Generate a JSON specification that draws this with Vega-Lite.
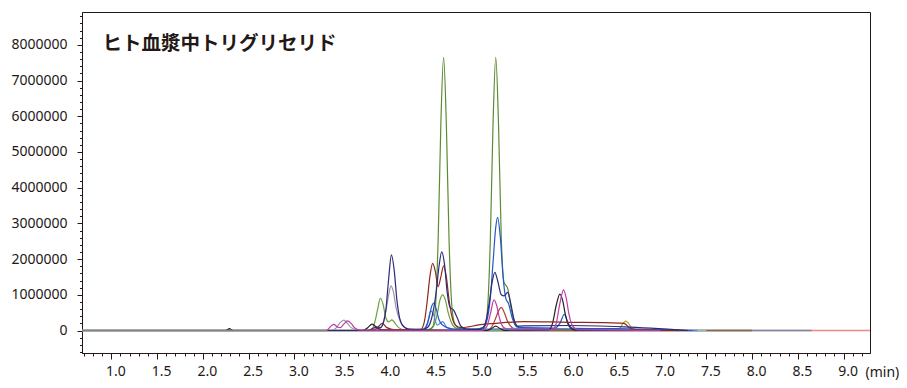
{
  "$schema": "https://vega.github.io/schema/vega-lite/v6.json",
  "autosize": {"type": "none"},
  "padding": {"left": 82, "top": 12, "right": 37, "bottom": 35},
  "width": 788,
  "height": 341,
  "background": "#ffffff",
  "config": {
    "view": {"stroke": "#231815", "strokeWidth": 1},
    "font": "Noto Sans",
    "axis": {"labelFont": "Noto Sans", "labelFontSize": 14, "labelColor": "#231815", "domainColor": "#231815", "tickColor": "#231815", "grid": false, "titleFont": "Noto Sans"}
  },
  "datasets": {
    "lines": [
      {"s": "salmon", "t": 0.68, "v": 0}, {"s": "salmon", "t": 9.288, "v": 0},
      {"s": "slate", "t": 0.68, "v": 0}, {"s": "slate", "t": 8.65, "v": 0},
      {"s": "umber", "t": 0.68, "v": 0}, {"s": "umber", "t": 8.0, "v": 0},
      {"s": "teal", "t": 0.68, "v": 0}, {"s": "teal", "t": 7.5, "v": 0},

      {"s": "gray", "t": 0.68, "v": 0}, {"s": "gray", "t": 3.35, "v": 0},

      {"s": "olive", "t": 6.45, "v": 0}, {"s": "olive", "t": 6.5, "v": 0}, {"s": "olive", "t": 6.55, "v": 50000}, {"s": "olive", "t": 6.59, "v": 200000}, {"s": "olive", "t": 6.62, "v": 260000}, {"s": "olive", "t": 6.65, "v": 200000}, {"s": "olive", "t": 6.69, "v": 50000}, {"s": "olive", "t": 6.75, "v": 0}, {"s": "olive", "t": 6.9, "v": 0},

      {"s": "lav", "t": 0.68, "v": 0}, {"s": "lav", "t": 3.4, "v": 0}, {"s": "lav", "t": 3.46, "v": 80000}, {"s": "lav", "t": 3.5, "v": 220000}, {"s": "lav", "t": 3.54, "v": 290000}, {"s": "lav", "t": 3.58, "v": 200000}, {"s": "lav", "t": 3.62, "v": 80000}, {"s": "lav", "t": 3.68, "v": 20000}, {"s": "lav", "t": 3.9, "v": 20000}, {"s": "lav", "t": 3.96, "v": 150000}, {"s": "lav", "t": 4.0, "v": 550000}, {"s": "lav", "t": 4.03, "v": 1000000}, {"s": "lav", "t": 4.055, "v": 1250000}, {"s": "lav", "t": 4.08, "v": 1100000}, {"s": "lav", "t": 4.11, "v": 650000}, {"s": "lav", "t": 4.15, "v": 300000}, {"s": "lav", "t": 4.2, "v": 100000}, {"s": "lav", "t": 4.27, "v": 30000}, {"s": "lav", "t": 4.5, "v": 20000}, {"s": "lav", "t": 7.0, "v": 0},

      {"s": "green2", "t": 0.68, "v": 0}, {"s": "green2", "t": 3.8, "v": 0}, {"s": "green2", "t": 3.85, "v": 50000}, {"s": "green2", "t": 3.88, "v": 250000}, {"s": "green2", "t": 3.91, "v": 600000}, {"s": "green2", "t": 3.94, "v": 910000}, {"s": "green2", "t": 3.97, "v": 720000}, {"s": "green2", "t": 4.0, "v": 350000}, {"s": "green2", "t": 4.03, "v": 240000}, {"s": "green2", "t": 4.065, "v": 300000}, {"s": "green2", "t": 4.1, "v": 200000}, {"s": "green2", "t": 4.14, "v": 80000}, {"s": "green2", "t": 4.2, "v": 20000}, {"s": "green2", "t": 4.45, "v": 20000}, {"s": "green2", "t": 4.52, "v": 120000}, {"s": "green2", "t": 4.56, "v": 450000}, {"s": "green2", "t": 4.59, "v": 850000}, {"s": "green2", "t": 4.62, "v": 1000000}, {"s": "green2", "t": 4.65, "v": 850000}, {"s": "green2", "t": 4.68, "v": 500000}, {"s": "green2", "t": 4.72, "v": 200000}, {"s": "green2", "t": 4.78, "v": 50000}, {"s": "green2", "t": 4.9, "v": 20000}, {"s": "green2", "t": 7.0, "v": 0},

      {"s": "green", "t": 0.68, "v": 0}, {"s": "green", "t": 4.4, "v": 0}, {"s": "green", "t": 4.47, "v": 20000}, {"s": "green", "t": 4.51, "v": 90000}, {"s": "green", "t": 4.54, "v": 610000}, {"s": "green", "t": 4.57, "v": 2490000}, {"s": "green", "t": 4.6, "v": 5780000}, {"s": "green", "t": 4.63, "v": 7650000}, {"s": "green", "t": 4.66, "v": 5780000}, {"s": "green", "t": 4.69, "v": 2500000}, {"s": "green", "t": 4.72, "v": 700000}, {"s": "green", "t": 4.75, "v": 200000}, {"s": "green", "t": 4.8, "v": 60000}, {"s": "green", "t": 4.9, "v": 30000}, {"s": "green", "t": 5.0, "v": 40000}, {"s": "green", "t": 5.05, "v": 80000}, {"s": "green", "t": 5.08, "v": 120000}, {"s": "green", "t": 5.11, "v": 610000}, {"s": "green", "t": 5.14, "v": 2490000}, {"s": "green", "t": 5.17, "v": 5780000}, {"s": "green", "t": 5.2, "v": 7650000}, {"s": "green", "t": 5.23, "v": 5780000}, {"s": "green", "t": 5.26, "v": 2600000}, {"s": "green", "t": 5.29, "v": 1350000}, {"s": "green", "t": 5.33, "v": 1180000}, {"s": "green", "t": 5.37, "v": 600000}, {"s": "green", "t": 5.41, "v": 200000}, {"s": "green", "t": 5.46, "v": 80000}, {"s": "green", "t": 5.6, "v": 50000}, {"s": "green", "t": 6.0, "v": 30000}, {"s": "green", "t": 7.2, "v": 0},

      {"s": "red2", "t": 0.68, "v": 0}, {"s": "red2", "t": 5.1, "v": 0}, {"s": "red2", "t": 5.15, "v": 80000}, {"s": "red2", "t": 5.2, "v": 350000}, {"s": "red2", "t": 5.23, "v": 550000}, {"s": "red2", "t": 5.26, "v": 650000}, {"s": "red2", "t": 5.29, "v": 520000}, {"s": "red2", "t": 5.33, "v": 250000}, {"s": "red2", "t": 5.38, "v": 80000}, {"s": "red2", "t": 5.45, "v": 20000}, {"s": "red2", "t": 7.0, "v": 0},

      {"s": "lblue", "t": 0.68, "v": 0}, {"s": "lblue", "t": 4.4, "v": 0}, {"s": "lblue", "t": 4.45, "v": 150000}, {"s": "lblue", "t": 4.49, "v": 550000}, {"s": "lblue", "t": 4.52, "v": 450000}, {"s": "lblue", "t": 4.56, "v": 150000}, {"s": "lblue", "t": 4.62, "v": 250000}, {"s": "lblue", "t": 4.66, "v": 100000}, {"s": "lblue", "t": 4.72, "v": 20000}, {"s": "lblue", "t": 5.5, "v": 60000}, {"s": "lblue", "t": 7.4, "v": 0},

      {"s": "blue", "t": 0.68, "v": 0}, {"s": "blue", "t": 4.38, "v": 0}, {"s": "blue", "t": 4.43, "v": 80000}, {"s": "blue", "t": 4.47, "v": 350000}, {"s": "blue", "t": 4.5, "v": 680000}, {"s": "blue", "t": 4.52, "v": 770000}, {"s": "blue", "t": 4.55, "v": 600000}, {"s": "blue", "t": 4.58, "v": 300000}, {"s": "blue", "t": 4.62, "v": 150000}, {"s": "blue", "t": 4.67, "v": 80000}, {"s": "blue", "t": 4.75, "v": 40000}, {"s": "blue", "t": 5.05, "v": 40000}, {"s": "blue", "t": 5.1, "v": 250000}, {"s": "blue", "t": 5.14, "v": 900000}, {"s": "blue", "t": 5.17, "v": 1900000}, {"s": "blue", "t": 5.2, "v": 2900000}, {"s": "blue", "t": 5.22, "v": 3170000}, {"s": "blue", "t": 5.25, "v": 2600000}, {"s": "blue", "t": 5.28, "v": 1500000}, {"s": "blue", "t": 5.31, "v": 900000}, {"s": "blue", "t": 5.34, "v": 750000}, {"s": "blue", "t": 5.38, "v": 350000}, {"s": "blue", "t": 5.43, "v": 100000}, {"s": "blue", "t": 5.5, "v": 80000}, {"s": "blue", "t": 5.85, "v": 70000}, {"s": "blue", "t": 5.9, "v": 200000}, {"s": "blue", "t": 5.95, "v": 450000}, {"s": "blue", "t": 5.99, "v": 200000}, {"s": "blue", "t": 6.05, "v": 60000}, {"s": "blue", "t": 6.5, "v": 50000}, {"s": "blue", "t": 7.35, "v": 0},

      {"s": "black", "t": 0.68, "v": 0}, {"s": "black", "t": 2.25, "v": 0}, {"s": "black", "t": 2.29, "v": 50000}, {"s": "black", "t": 2.33, "v": 0}, {"s": "black", "t": 3.75, "v": 0}, {"s": "black", "t": 3.8, "v": 80000}, {"s": "black", "t": 3.85, "v": 180000}, {"s": "black", "t": 3.9, "v": 80000}, {"s": "black", "t": 3.96, "v": 20000}, {"s": "black", "t": 5.1, "v": 0}, {"s": "black", "t": 5.15, "v": 50000}, {"s": "black", "t": 5.2, "v": 120000}, {"s": "black", "t": 5.25, "v": 50000}, {"s": "black", "t": 5.3, "v": 0}, {"s": "black", "t": 5.78, "v": 20000}, {"s": "black", "t": 5.82, "v": 200000}, {"s": "black", "t": 5.86, "v": 700000}, {"s": "black", "t": 5.9, "v": 1020000}, {"s": "black", "t": 5.93, "v": 850000}, {"s": "black", "t": 5.96, "v": 450000}, {"s": "black", "t": 6.0, "v": 120000}, {"s": "black", "t": 6.05, "v": 20000}, {"s": "black", "t": 6.2, "v": 0}, {"s": "black", "t": 7.0, "v": 0},

      {"s": "brown", "t": 0.68, "v": 0}, {"s": "brown", "t": 3.85, "v": 0}, {"s": "brown", "t": 3.9, "v": 60000}, {"s": "brown", "t": 3.96, "v": 200000}, {"s": "brown", "t": 4.01, "v": 80000}, {"s": "brown", "t": 4.1, "v": 20000}, {"s": "brown", "t": 4.38, "v": 30000}, {"s": "brown", "t": 4.42, "v": 250000}, {"s": "brown", "t": 4.45, "v": 800000}, {"s": "brown", "t": 4.48, "v": 1500000}, {"s": "brown", "t": 4.51, "v": 1880000}, {"s": "brown", "t": 4.54, "v": 1650000}, {"s": "brown", "t": 4.57, "v": 1230000}, {"s": "brown", "t": 4.6, "v": 1500000}, {"s": "brown", "t": 4.63, "v": 1810000}, {"s": "brown", "t": 4.66, "v": 1500000}, {"s": "brown", "t": 4.69, "v": 850000}, {"s": "brown", "t": 4.72, "v": 400000}, {"s": "brown", "t": 4.76, "v": 150000}, {"s": "brown", "t": 4.82, "v": 80000}, {"s": "brown", "t": 4.9, "v": 100000}, {"s": "brown", "t": 5.0, "v": 150000}, {"s": "brown", "t": 5.2, "v": 200000}, {"s": "brown", "t": 5.5, "v": 250000}, {"s": "brown", "t": 6.0, "v": 230000}, {"s": "brown", "t": 6.4, "v": 220000}, {"s": "brown", "t": 6.6, "v": 200000}, {"s": "brown", "t": 6.68, "v": 50000}, {"s": "brown", "t": 6.8, "v": 20000}, {"s": "brown", "t": 7.3, "v": 0},

      {"s": "navy", "t": 0.68, "v": 0}, {"s": "navy", "t": 3.8, "v": 0}, {"s": "navy", "t": 3.86, "v": 60000}, {"s": "navy", "t": 3.9, "v": 100000}, {"s": "navy", "t": 3.94, "v": 80000}, {"s": "navy", "t": 3.97, "v": 200000}, {"s": "navy", "t": 4.0, "v": 600000}, {"s": "navy", "t": 4.03, "v": 1450000}, {"s": "navy", "t": 4.06, "v": 2120000}, {"s": "navy", "t": 4.09, "v": 1700000}, {"s": "navy", "t": 4.12, "v": 850000}, {"s": "navy", "t": 4.15, "v": 350000}, {"s": "navy", "t": 4.19, "v": 120000}, {"s": "navy", "t": 4.25, "v": 40000}, {"s": "navy", "t": 4.4, "v": 30000}, {"s": "navy", "t": 4.46, "v": 100000}, {"s": "navy", "t": 4.5, "v": 350000}, {"s": "navy", "t": 4.55, "v": 1100000}, {"s": "navy", "t": 4.58, "v": 1800000}, {"s": "navy", "t": 4.61, "v": 2200000}, {"s": "navy", "t": 4.64, "v": 1850000}, {"s": "navy", "t": 4.67, "v": 1050000}, {"s": "navy", "t": 4.7, "v": 650000}, {"s": "navy", "t": 4.74, "v": 570000}, {"s": "navy", "t": 4.78, "v": 350000}, {"s": "navy", "t": 4.82, "v": 120000}, {"s": "navy", "t": 4.88, "v": 40000}, {"s": "navy", "t": 5.0, "v": 30000}, {"s": "navy", "t": 5.06, "v": 80000}, {"s": "navy", "t": 5.1, "v": 350000}, {"s": "navy", "t": 5.13, "v": 800000}, {"s": "navy", "t": 5.16, "v": 1350000}, {"s": "navy", "t": 5.19, "v": 1630000}, {"s": "navy", "t": 5.22, "v": 1400000}, {"s": "navy", "t": 5.26, "v": 1000000}, {"s": "navy", "t": 5.29, "v": 970000}, {"s": "navy", "t": 5.33, "v": 1070000}, {"s": "navy", "t": 5.36, "v": 800000}, {"s": "navy", "t": 5.4, "v": 300000}, {"s": "navy", "t": 5.44, "v": 120000}, {"s": "navy", "t": 5.5, "v": 130000}, {"s": "navy", "t": 6.0, "v": 140000}, {"s": "navy", "t": 6.6, "v": 100000}, {"s": "navy", "t": 7.3, "v": 0},

      {"s": "magenta", "t": 0.68, "v": 0}, {"s": "magenta", "t": 3.35, "v": 0}, {"s": "magenta", "t": 3.39, "v": 100000}, {"s": "magenta", "t": 3.43, "v": 170000}, {"s": "magenta", "t": 3.47, "v": 100000}, {"s": "magenta", "t": 3.5, "v": 80000}, {"s": "magenta", "t": 3.54, "v": 180000}, {"s": "magenta", "t": 3.58, "v": 270000}, {"s": "magenta", "t": 3.62, "v": 200000}, {"s": "magenta", "t": 3.66, "v": 70000}, {"s": "magenta", "t": 3.72, "v": 10000}, {"s": "magenta", "t": 5.05, "v": 0}, {"s": "magenta", "t": 5.1, "v": 100000}, {"s": "magenta", "t": 5.14, "v": 450000}, {"s": "magenta", "t": 5.18, "v": 860000}, {"s": "magenta", "t": 5.21, "v": 700000}, {"s": "magenta", "t": 5.24, "v": 350000}, {"s": "magenta", "t": 5.28, "v": 100000}, {"s": "magenta", "t": 5.35, "v": 20000}, {"s": "magenta", "t": 5.82, "v": 20000}, {"s": "magenta", "t": 5.86, "v": 200000}, {"s": "magenta", "t": 5.9, "v": 750000}, {"s": "magenta", "t": 5.94, "v": 1140000}, {"s": "magenta", "t": 5.97, "v": 900000}, {"s": "magenta", "t": 6.0, "v": 450000}, {"s": "magenta", "t": 6.04, "v": 120000}, {"s": "magenta", "t": 6.1, "v": 20000}, {"s": "magenta", "t": 7.0, "v": 0}
    ]
  },
  "layer": [
    {
      "data": {"name": "lines"},
      "transform": [{"filter": "indexof(['salmon','slate','umber','teal'], datum.s) >= 0"}],
      "mark": {"type": "line", "strokeWidth": 1.5, "clip": true, "interpolate": "linear"},
      "encoding": {
        "x": {"field": "t", "type": "quantitative", "scale": {"domain": [0.68, 9.288], "nice": false, "zero": false},
          "axis": {
            "values": [0.7,0.8,0.9,1.0,1.1,1.2,1.3,1.4,1.5,1.6,1.7,1.8,1.9,2.0,2.1,2.2,2.3,2.4,2.5,2.6,2.7,2.8,2.9,3.0,3.1,3.2,3.3,3.4,3.5,3.6,3.7,3.8,3.9,4.0,4.1,4.2,4.3,4.4,4.5,4.6,4.7,4.8,4.9,5.0,5.1,5.2,5.3,5.4,5.5,5.6,5.7,5.8,5.9,6.0,6.1,6.2,6.3,6.4,6.5,6.6,6.7,6.8,6.9,7.0,7.1,7.2,7.3,7.4,7.5,7.6,7.7,7.8,7.9,8.0,8.1,8.2,8.3,8.4,8.5,8.6,8.7,8.8,8.9,9.0,9.1,9.2],
            "tickCount": 1000,
            "labelExpr": "abs(datum.value * 2 - round(datum.value * 2)) < 0.001 ? format(datum.value, '.1f') : ''",
            "tickSize": {"condition": {"test": "abs(datum.value * 2 - round(datum.value * 2)) < 0.001", "value": 6}, "value": 3},
            "labelPadding": 5, "labelOffset": 4, "labelOverlap": false, "labelFlush": false,
            "title": "(min)", "titleFontSize": 14, "titleFontWeight": "normal", "titleColor": "#231815",
            "titleAlign": "left", "titleBaseline": "alphabetic", "titleX": 783, "titleY": 23, "titleAnchor": null
          }},
        "y": {"field": "v", "type": "quantitative", "scale": {"domain": [-630000, 8920000], "nice": false, "zero": false},
          "axis": {
            "values": [-600000,-400000,-200000,0,200000,400000,600000,800000,1000000,1200000,1400000,1600000,1800000,2000000,2200000,2400000,2600000,2800000,3000000,3200000,3400000,3600000,3800000,4000000,4200000,4400000,4600000,4800000,5000000,5200000,5400000,5600000,5800000,6000000,6200000,6400000,6600000,6800000,7000000,7200000,7400000,7600000,7800000,8000000,8200000,8400000,8600000,8800000],
            "tickCount": 1000,
            "labelExpr": "datum.value % 1000000 === 0 ? format(datum.value, 'd') : ''",
            "tickSize": {"condition": {"test": "datum.value % 1000000 === 0", "value": 5}, "value": 2.5},
            "labelPadding": 10, "labelOverlap": false, "labelFlush": false, "title": null
          }},
        "color": {"field": "s", "type": "nominal", "legend": null,
          "scale": {
            "domain": ["salmon","slate","umber","teal","gray","olive","lav","green2","green","red2","lblue","blue","black","brown","navy","magenta"],
            "range": ["#f08585","#7a86a6","#7d6a4a","#8cc0c8","#858585","#b0a030","#9c94aa","#6e9e3e","#5b8c32","#b04030","#4f86d8","#2458c8","#232323","#8c2a1c","#2e2a78","#c03aa8"]
          }}
      }
    },
    {
      "data": {"name": "lines"},
      "transform": [{"filter": "indexof(['salmon','slate','umber','teal','gray'], datum.s) < 0"}],
      "mark": {"type": "line", "strokeWidth": 1.2, "clip": true, "interpolate": "monotone"},
      "encoding": {
        "x": {"field": "t", "type": "quantitative"},
        "y": {"field": "v", "type": "quantitative"},
        "color": {"field": "s", "type": "nominal", "legend": null}
      }
    },
    {
      "data": {"name": "lines"},
      "transform": [{"filter": "datum.s === 'gray'"}],
      "mark": {"type": "line", "strokeWidth": 1.5, "clip": true},
      "encoding": {
        "x": {"field": "t", "type": "quantitative"},
        "y": {"field": "v", "type": "quantitative"},
        "color": {"field": "s", "type": "nominal", "legend": null}
      }
    },
    {
      "data": {"values": [{"label": "ヒト血漿中トリグリセリド"}]},
      "mark": {"type": "text", "font": "Noto Sans CJK JP", "fontSize": 19.5, "fontWeight": "bold", "color": "#231815", "align": "left", "baseline": "middle"},
      "encoding": {
        "x": {"datum": 0.905, "type": "quantitative"},
        "y": {"datum": 8030000, "type": "quantitative"},
        "text": {"field": "label"}
      }
    }
  ]
}
